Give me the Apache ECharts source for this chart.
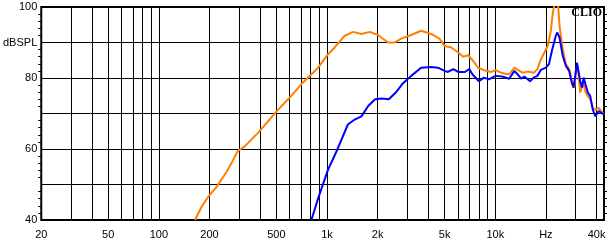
<!DOCTYPE html>
<html>
<head>
<meta charset="utf-8">
<script src="https://cdn.jsdelivr.net/npm/echarts@6/dist/echarts.min.js"></script>
<style>
html,body{margin:0;padding:0;background:#fff;}
#c{width:612px;height:245px;}
</style>
</head>
<body>
<div id="c"></div>
<script>
// Tick labels
const xLabelValues = [20, 50, 100, 200, 500, 1000, 2000, 5000, 10000, 20000, 40000];
const xLabelTexts = ['20', '50', '100', '200', '500', '1k', '2k', '5k', '10k', 'Hz', '40k'];
const xGridValues = [20, 30, 40, 50, 60, 70, 80, 90, 100, 200, 300, 400, 500, 600, 700, 800, 900,
  1000, 2000, 3000, 4000, 5000, 6000, 7000, 8000, 9000, 10000, 20000, 30000, 40000];
const yLabelTexts = {100: '100', 90: 'dBSPL', 80: '80', 60: '60', 40: '40'};

// Orange curve
const orangeFreq = [164, 180, 197, 221, 253, 271, 294, 303, 325, 390, 512, 587, 705, 885, 1014, 1110, 1273, 1427,
  1600, 1792, 2009, 2303, 2519, 2760, 3163, 3627, 4163, 4660, 5000, 5480, 6020, 6440, 6900, 7400, 7900, 8560,
  9440, 10040, 10820, 12100, 13000, 13600, 14550, 15500, 17000, 17800, 18690, 19600, 20500, 21400, 22000,
  22600, 23000, 23600, 24100, 25200, 26300, 27500, 28600, 29500, 30150, 30900, 32000, 33300, 34300, 35500,
  36700, 38000, 39400, 41200, 42300, 44300];
const orangeDb = [40, 43.8, 46.6, 49.4, 53.6, 56.1, 59.4, 59.8, 60.8, 64.6, 71.1, 74.0, 78.3, 82.9, 86.7, 88.6, 91.9, 93.0,
  92.4, 93.0, 92.1, 90.0, 90.0, 91.1, 92.1, 93.3, 92.4, 91.1, 89.0, 88.6, 87.2, 86.0, 86.4, 84.8, 82.9, 82.2,
  81.7, 82.2, 81.5, 81.0, 82.9, 82.3, 81.5, 81.8, 81.5, 82.5, 85.3, 87.2, 89.0, 93.3, 98.5,
  101, 101, 101, 94.7, 88.1, 83.9, 82.5, 79.1, 77.3, 82.0, 83.4, 75.9, 78.7, 76.3, 74.9,
  74.0, 71.6, 71.1, 71.6, 71.1, 69.7];

// Blue curve
const blueFreq = [807, 885, 1014, 1150, 1330, 1460, 1600, 1757, 1930, 2120, 2330, 2560, 2800, 3163, 3627, 4163, 4560,
  5000, 5230, 5630, 6020, 6600, 7000, 7330, 8000, 8560, 9160, 10040, 11000, 12100, 13000, 13600, 14220, 14900,
  16100, 16900, 17800, 18690, 20000, 20850, 21700, 22900, 23400, 24100, 25200, 26300, 27500, 28500, 29200,
  29900, 30600, 31300, 32000, 32800, 33500, 34300, 35500, 36700, 38000, 39400, 41200, 42300, 44300];
const blueDb = [40, 46.1, 54.2, 59.8, 66.9, 68.3, 69.2, 72.1, 74.0, 74.2, 74.0, 75.9, 78.3, 80.6, 82.9, 83.1, 82.9,
  82.0, 81.7, 82.5, 81.7, 81.7, 82.5, 81.0, 79.1, 80.1, 79.6, 80.6, 80.4, 79.8, 82.0, 81.0, 79.8, 80.4,
  79.1, 80.1, 80.6, 82.3, 82.9, 83.9, 87.6, 91.9, 92.8, 91.4, 86.2, 83.4, 82.0, 78.7, 77.3,
  80.6, 84.3, 83.9, 79.1, 77.3, 80.1, 79.6, 75.9, 74.9, 71.1, 69.2, 70.7, 70.2, 69.7];

const pair = (f, d) => f.map((v, i) => [v, d[i]]);

const chart = echarts.init(document.getElementById('c'), null, {renderer: 'canvas'});
const font = 'Liberation Sans, Arial, sans-serif';
chart.setOption({
  animation: false,
  backgroundColor: '#fff',
  grid: {left: 39, right: 8, top: 7, bottom: 25, show: true, borderColor: '#000', borderWidth: 2, backgroundColor: 'transparent'},
  xAxis: {
    type: 'log', logBase: 10, min: 20, max: 44300,
    axisLine: {show: false},
    axisTick: {show: false, customValues: xGridValues},
    splitLine: {show: true, lineStyle: {color: '#000', width: 1}},
    axisLabel: {
      customValues: xLabelValues,
      margin: 9,
      color: '#000', fontFamily: font, fontSize: 11,
      formatter: v => { const i = xLabelValues.findIndex(x => Math.abs(x - v) / x < 1e-6); return i >= 0 ? xLabelTexts[i] : ''; }
    }
  },
  yAxis: [{
    type: 'value', min: 40, max: 100, interval: 10,
    axisLine: {show: false},
    axisTick: {show: false},
    minorTick: {show: true, splitNumber: 5, length: 3, inside: true, lineStyle: {color: '#000', width: 1}},
    splitLine: {show: true, lineStyle: {color: '#000', width: 1}},
    axisLabel: {
      margin: 4, color: '#000', fontFamily: font, fontSize: 11,
      formatter: v => yLabelTexts[v] || ''
    }
  }, {
    type: 'value', min: 40, max: 100, interval: 10, position: 'right',
    axisLine: {show: false},
    axisTick: {show: false},
    minorTick: {show: true, splitNumber: 5, length: 3, inside: true, lineStyle: {color: '#000', width: 1}},
    splitLine: {show: false},
    axisLabel: {show: false}
  }],
  graphic: [{
    type: 'text', right: 10, top: 7,
    style: {text: 'CLIO', font: 'bold 12px "Liberation Serif", serif', fill: '#000'}
  }],
  series: [{
    type: 'line', data: pair(orangeFreq, orangeDb), showSymbol: false, symbol: 'none', clip: true,
    lineStyle: {color: '#ff8000', width: 2}, z: 3
  }, {
    type: 'line', data: pair(blueFreq, blueDb), showSymbol: false, symbol: 'none', clip: true,
    lineStyle: {color: '#0000ff', width: 2}, z: 4
  }]
});
</script>
</body>
</html>
